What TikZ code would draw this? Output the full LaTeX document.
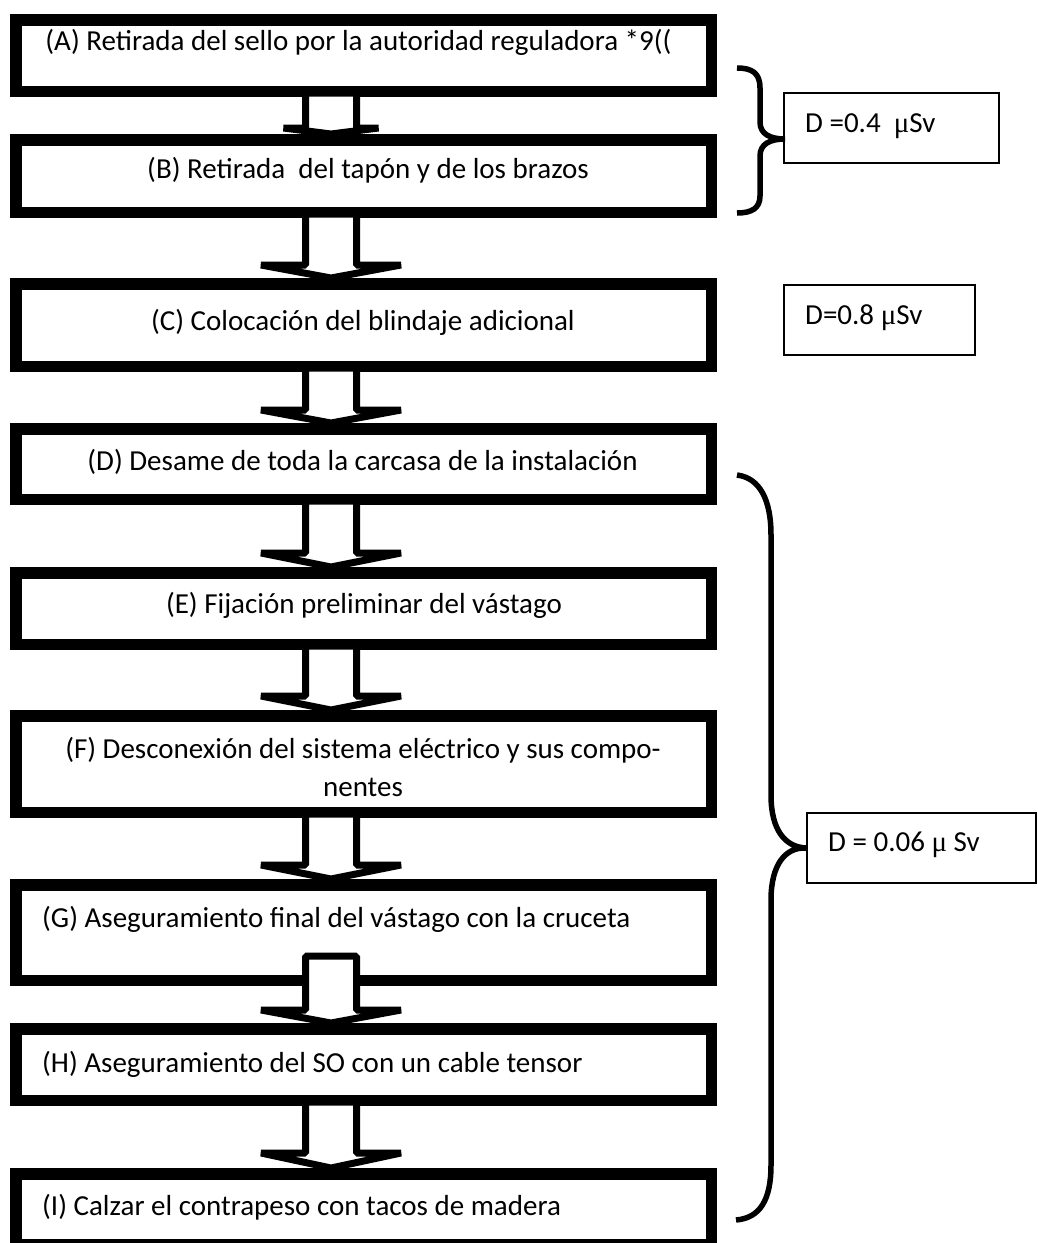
\documentclass[tikz,border=0pt]{standalone}
\usepackage{fontspec}
\setmainfont{Carlito}
\newfontfamily\mufont{Liberation Serif}
\usetikzlibrary{positioning,calc}

% block arrow: from, to, start inside from-box, wing half width, head length
\newcommand{\flowarrow}[5]{%
  \draw[flowarrow] ($(#1.south)+(-58,-#3)$) -- ($(#2.north)+(-58,-#5)$)
    -- ($(#2.north)+(-32.5-#4,-#5)$) -- ($(#2.north)+(-32.5,0)$)
    -- ($(#2.north)+(-32.5+#4,-#5)$) -- ($(#2.north)+(-7,-#5)$)
    -- ($(#1.south)+(-7,-#3)$) -- cycle;}
\newcommand{\micro}{{\mufont μ}}

\begin{document}
\begin{tikzpicture}[x=1pt, y=-1pt,
    every node/.style={font=\fontsize{29}{35}\selectfont},
    stepbox/.style={draw, line width=11.5pt, minimum width=695.5pt, inner sep=0pt},
    steptext/.style={inner sep=0pt, anchor=base},
    dosebox/.style={draw, line width=2pt, minimum height=70pt, inner sep=0pt},
    flowarrow/.style={draw, fill=white, line width=7pt, line join=bevel},
    curlbrace/.style={draw, line width=5.5pt}]
    \path[fill=white, use as bounding box] (0,0) rectangle (1037,1243);
    \clip (0,0) rectangle (1037,1243);

    % steps
    \node[stepbox, minimum height=71.5pt] (A) at (363.5,55.5) {};
    \node[stepbox, minimum height=72.5pt, below=37pt of A] (B) {};
    \node[stepbox, minimum height=82.5pt, below=60pt of B] (C) {};
    \node[stepbox, minimum height=70.5pt, below=51pt of C] (D) {};
    \node[stepbox, minimum height=71.5pt, below=62pt of D] (E) {};
    \node[stepbox, minimum height=96.5pt, below=60pt of E] (F) {};
    \node[stepbox, minimum height=95.5pt, below=61pt of F] (G) {};
    \node[stepbox, minimum height=71.5pt, below=37pt of G] (H) {};
    \node[stepbox, minimum height=70.5pt, below=62pt of H] (I) {};

    \flowarrow{A}{B}{4}{47.5}{6}
    \flowarrow{B}{C}{4}{70}{13}
    \flowarrow{C}{D}{4}{70}{13}
    \flowarrow{D}{E}{4}{70}{14}
    \flowarrow{E}{F}{4}{70}{14}
    \flowarrow{F}{G}{4}{70}{14}
    \flowarrow{G}{H}{30}{70}{13}
    \flowarrow{H}{I}{4}{70}{15}

    \node[steptext] (tA) at (358.5,50) {(A) Retirada del sello por la autoridad reguladora *9((};
    \node[steptext] (tB) at (368,178) {(B) Retirada\ \ del tapón y de los brazos};
    \node[steptext] (tC) at (363,330) {(C) Colocación del blindaje adicional};
    \node[steptext] (tD) at (362.5,470) {(D) Desame de toda la carcasa de la instalación};
    \node[steptext] (tE) at (364,613) {(E) Fijación preliminar del vástago};
    \node[steptext] (tF) at (363,758) {(F) Desconexión del sistema eléctrico y sus compo-};
    \node[steptext] (tF2) at (363,796) {nentes};
    \node[steptext, anchor=base west] (tG) at (42,927) {(G) Aseguramiento final del vástago con la cruceta};
    \node[steptext, anchor=base west] (tH) at (42,1072) {(H) Aseguramiento del SO con un cable tensor};
    \node[steptext, anchor=base west] (tI) at (42,1215) {(I) Calzar el contrapeso con tacos de madera};

    % doses
    \node[dosebox, minimum width=215pt] (d1) at (891.5,128) {};
    \node[dosebox, minimum width=191pt] (d2) at (879.5,320) {};
    \node[dosebox, minimum width=229pt] (d3) at (921.5,848) {};
    \node[steptext, anchor=base west] (td1) at (805,132) {D =0.4\ \ \micro Sv};
    \node[steptext, anchor=base west] (td2) at (805,324) {D=0.8 \micro Sv};
    \node[steptext, anchor=base west] (td3) at (828,851) {D = 0.06 \micro\ Sv};

    % braces
    \coordinate (b1top) at (737,68);
    \coordinate (b1tip) at (785,139);
    \coordinate (b1bot) at (737,213);
    \draw[curlbrace] (b1top) .. controls (752,68) and (760,73) .. (760,88) -- (760,122)
      .. controls (760,134) and (770,139) .. (b1tip) .. controls (770,139) and (760,144) .. (760,156)
      -- (760,196) .. controls (760,208) and (752,213) .. (b1bot);
    \coordinate (b2top) at (737,475);
    \coordinate (b2bot) at (736,1220);
    \draw[curlbrace] (b2top) .. controls (760,478) and (771,500) .. (771,535) -- (771,795)
      .. controls (771,830) and (785,847) .. (d3.west) .. controls (785,847) and (771,865) .. (771,900)
      -- (771,1165) .. controls (771,1200) and (760,1218) .. (b2bot);
  \end{tikzpicture}
\end{document}
